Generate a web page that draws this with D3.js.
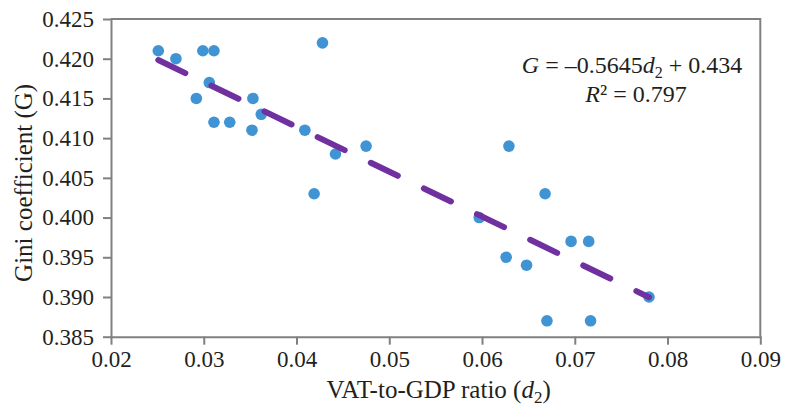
<!DOCTYPE html>
<html>
<head>
<meta charset="utf-8">
<script src="https://cdn.jsdelivr.net/npm/d3@7"></script>
<style>
  body { margin: 0; background: #fff; }
  svg { font-family: "Liberation Serif", "DejaVu Serif", serif; }
  .axis path, .axis line { stroke: #808080; stroke-width: 2px; }
</style>
</head>
<body>
<div id="main"></div>
<script>
'use strict'

// VAT-to-GDP ratio (d2) for each country
let vatRatio = [0.0251, 0.0270, 0.0299, 0.0311, 0.0306, 0.0292, 0.0353, 0.0362, 0.0311,
  0.0328, 0.0352, 0.0409, 0.0428, 0.0442, 0.0475, 0.0419, 0.0597, 0.0629, 0.0668,
  0.0626, 0.0648, 0.0696, 0.0715, 0.0670, 0.0717, 0.0780];
// Gini coefficient (G)
let giniCoef = [0.421, 0.420, 0.421, 0.421, 0.417, 0.415, 0.415, 0.413, 0.412,
  0.412, 0.411, 0.411, 0.422, 0.408, 0.409, 0.403, 0.400, 0.409, 0.403,
  0.395, 0.394, 0.397, 0.397, 0.387, 0.387, 0.390];

let xTicks = [0.02, 0.03, 0.04, 0.05, 0.06, 0.07, 0.08, 0.09];
let yTicks = [0.385, 0.390, 0.395, 0.400, 0.405, 0.410, 0.415, 0.420, 0.425];

// fitted line G = slope*d2 + intercept
let slope = -0.5645;
let intercept = 0.434;
let rSquared = 0.797;

document.addEventListener('DOMContentLoaded', function(){
  drawScatterPlot();
});

function drawScatterPlot(){
  let svgWidth = 787;
  let svgHeight = 407;
  let left = 111, right = 760.3, top = 19, bottom = 336.7;
  let serif = '"Liberation Serif", "DejaVu Serif", serif';

  let dataset = vatRatio.map((d, i) => ({x: d, y: giniCoef[i]}));

  let svg = d3.select('#main')
    .append('svg')
    .attr('width', svgWidth)
    .attr('height', svgHeight);

  //Define the scales
  let xScale = d3.scaleLinear()
    .domain([xTicks[0], xTicks[xTicks.length - 1]])
    .range([left, right]);
  let yScale = d3.scaleLinear()
    .domain([yTicks[0], yTicks[yTicks.length - 1]])
    .range([bottom, top]);

  const xAxis = d3.axisBottom(xScale)
    .tickValues(xTicks)
    .tickFormat(d3.format('.2f'))
    .tickSizeInner(8)
    .tickSizeOuter(0)
    .tickPadding(6);
  const yAxis = d3.axisLeft(yScale)
    .tickValues(yTicks)
    .tickFormat(d3.format('.3f'))
    .tickSizeInner(8)
    .tickSizeOuter(0)
    .tickPadding(9);

  //Top and right frame lines
  svg.append('path')
    .attr('d', `M${left},${top}H${right}V${bottom}`)
    .attr('fill', 'none')
    .attr('stroke', '#808080')
    .attr('stroke-width', 2);

  svg.append('g')
    .attr('class', 'axis')
    .attr('transform', `translate(0, ${bottom})`)
    .call(xAxis);

  svg.append('g')
    .attr('class', 'axis')
    .attr('transform', `translate(${left}, 0)`)
    .call(yAxis);

  svg.selectAll('.axis')
    .attr('font-family', serif)
    .attr('font-size', 23);
  svg.selectAll('.axis text')
    .style('font-family', serif)
    .style('font-size', '23px')
    .attr('fill', '#231f20');
  svg.selectAll('.axis .domain').attr('stroke-linecap', 'square');

  //Draw the points
  svg.selectAll('circle')
    .data(dataset)
    .enter()
    .append('circle')
    .attr('cx', d => xScale(d.x))
    .attr('cy', d => yScale(d.y))
    .attr('r', 5.8)
    .attr('fill', '#4094d4');

  //Trend line over the data range
  let xExt = d3.extent(vatRatio);
  let trend = xExt.map(v => [xScale(v), yScale(slope * v + intercept)]);
  svg.append('path')
    .attr('d', d3.line()(trend))
    .attr('fill', 'none')
    .attr('stroke', '#7030a0')
    .attr('stroke-width', 6)
    .attr('stroke-linecap', 'round')
    .attr('stroke-dasharray', '30,29');

  //Equation text
  let eq = svg.append('text')
    .attr('x', 632)
    .attr('y', 73)
    .attr('text-anchor', 'middle')
    .attr('font-size', '24px')
    .attr('fill', '#231f20');
  eq.append('tspan').attr('font-style', 'italic').text('G');
  eq.append('tspan').text(' = –' + Math.abs(slope));
  eq.append('tspan').attr('font-style', 'italic').text('d');
  eq.append('tspan').attr('font-size', '16px').attr('dy', 5).text('2');
  eq.append('tspan').attr('dy', -5).text(' + ' + intercept);

  let r2 = svg.append('text')
    .attr('x', 636)
    .attr('y', 102)
    .attr('text-anchor', 'middle')
    .attr('font-size', '24px')
    .attr('fill', '#231f20');
  r2.append('tspan').attr('font-style', 'italic').text('R');
  r2.append('tspan').text('² = ' + rSquared);

  //Axis titles
  let xt = svg.append('text')
    .attr('x', (left + right) / 2 + 3)
    .attr('y', 398)
    .attr('text-anchor', 'middle')
    .attr('font-size', '25px')
    .attr('fill', '#231f20');
  xt.append('tspan').text('VAT-to-GDP ratio (');
  xt.append('tspan').attr('font-style', 'italic').text('d');
  xt.append('tspan').attr('font-size', '17px').attr('dy', 5).text('2');
  xt.append('tspan').attr('dy', -5).text(')');

  svg.append('text')
    .attr('transform', `translate(32, ${(top + bottom) / 2 + 5}) rotate(-90)`)
    .attr('text-anchor', 'middle')
    .attr('font-size', '25px')
    .attr('fill', '#231f20')
    .text('Gini coefficient (G)');
}
</script>
</body>
</html>
